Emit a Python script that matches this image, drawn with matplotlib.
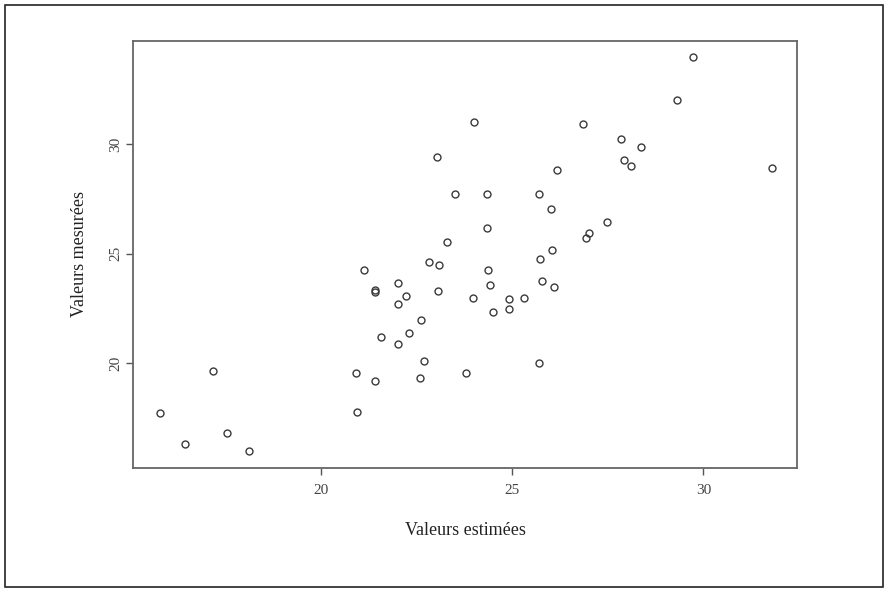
import matplotlib
matplotlib.use("Agg")
import matplotlib.pyplot as plt
from matplotlib.patches import Rectangle

# valeurs
estimees = [15.79, 16.46, 17.18, 17.56, 18.13, 20.92, 20.96, 21.14, 21.42, 21.43,
            21.58, 21.43, 22.03, 22.24, 22.03, 22.01, 22.31, 22.61, 22.59, 22.70,
            22.83, 23.10, 23.03, 23.07, 23.31, 23.51, 23.79, 23.97, 24.01, 24.35,
            24.34, 24.38, 24.42, 24.49, 24.91, 24.91, 25.32, 25.71, 25.73, 25.77,
            25.71, 26.01, 26.04, 26.10, 26.17, 26.85, 27.00, 26.92, 27.49, 27.84,
            27.93, 28.12, 28.36, 29.30, 29.74, 31.78]
mesurees = [17.72, 16.33, 19.66, 16.83, 16.01, 19.54, 17.79, 24.26, 23.33, 23.26,
            21.19, 19.21, 23.67, 23.09, 22.71, 20.87, 21.37, 21.98, 19.32, 20.11,
            24.64, 24.49, 29.41, 23.29, 25.53, 27.73, 19.57, 22.97, 31.03, 27.73,
            26.16, 24.26, 23.58, 22.32, 22.92, 22.47, 22.97, 27.73, 24.76, 23.76,
            19.99, 27.05, 25.17, 23.47, 28.82, 30.93, 25.97, 25.70, 26.44, 30.24,
            29.26, 29.01, 29.89, 32.02, 34.00, 28.93]
xticks = [20, 25, 30]
yticks = [20, 25, 30]

plt.rcParams['font.family'] = ['Liberation Serif', 'DejaVu Serif']

fig = plt.figure(figsize=(8.88, 5.92), dpi=100)
fig.patches.append(Rectangle((5 / 888, 5 / 592), 878 / 888, 582 / 592,
                             transform=fig.transFigure, fill=False,
                             edgecolor='#222222', linewidth=1.2))

ax = fig.add_axes([133 / 888, 1 - 467.7 / 592, 664 / 888, 427 / 592])
ax.plot(estimees, mesurees, 'o', markersize=5, markerfacecolor='none',
        markeredgecolor='#3a3a3a', markeredgewidth=1.0)

ax.set_xlim(15.095, 32.446)
ax.set_ylim(15.23, 34.73)
ax.set_xticks(xticks)
ax.set_yticks(yticks)
ax.set_yticklabels([str(t) for t in yticks], rotation=90, va='center')
ax.tick_params(direction='out', length=5, width=1, colors='#555555',
               labelsize=11, labelcolor='#444444')
ax.tick_params(axis='x', pad=7)
ax.tick_params(axis='y', pad=3)
for s in ax.spines.values():
    s.set_color('#666666')
    s.set_linewidth(1.3)

ax.set_xlabel('Valeurs estimées', fontsize=13, color='#222222', labelpad=18)
ax.set_ylabel('Valeurs mesurées', fontsize=13, color='#222222', labelpad=15)

fig.savefig('out.png', dpi=100)
